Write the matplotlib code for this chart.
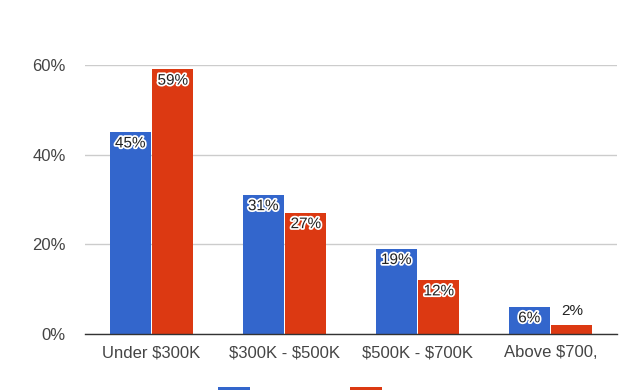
import numpy as np
import matplotlib
matplotlib.use("Agg")
import matplotlib.pyplot as plt
import matplotlib.patheffects as pe

categories = ["Under $300K", "$300K - $500K", "$500K - $700K", "Above $700,"]
series_a = [45, 31, 19, 6]
series_b = [59, 27, 12, 2]

blue = "#3366cc"
red = "#dc3912"

plt.rcParams["font.family"] = ["Liberation Sans", "DejaVu Sans"]
plt.rcParams["text.parse_math"] = False

fig = plt.figure(figsize=(6.28, 3.9), dpi=100)
ax = fig.add_axes([85 / 628, 56 / 390, 532 / 628, 269 / 390])

x = np.arange(len(categories))
w = 0.31
b1 = ax.bar(x - w / 2 - 0.005, series_a, w, color=blue, zorder=3)
b2 = ax.bar(x + w / 2 + 0.005, series_b, w, color=red, zorder=3)

halo = [pe.withStroke(linewidth=2.5, foreground="white")]
for bars, vals in ((b1, series_a), (b2, series_b)):
    for r, v in zip(bars, vals):
        cx = r.get_x() + r.get_width() / 2
        if v >= 5:
            ax.annotate("%d%%" % v, xy=(cx, v), xytext=(0, -3), textcoords="offset points",
                        ha="center", va="top", fontsize=11, color="#222222",
                        path_effects=halo, zorder=5)
        else:
            ax.annotate("%d%%" % v, xy=(cx, v), xytext=(0, 5), textcoords="offset points",
                        ha="center", va="bottom", fontsize=11, color="#222222", zorder=5)

ax.set_xlim(-0.5, len(categories) - 0.5)
ax.set_ylim(0, 60)
ax.set_yticks([0, 20, 40, 60])
ax.set_yticklabels(["0%", "20%", "40%", "60%"])
ax.set_xticks(x)
ax.set_xticklabels(categories)
ax.tick_params(length=0, labelsize=12, labelcolor="#444444")
ax.tick_params(axis="y", pad=14)
ax.tick_params(axis="x", pad=8)
ax.grid(axis="y", color="#cccccc", linewidth=1, zorder=0)
ax.set_axisbelow(True)
for s in ["top", "right", "left"]:
    ax.spines[s].set_visible(False)
ax.spines["bottom"].set_color("#333333")
ax.spines["bottom"].set_linewidth(1)
ax.spines["bottom"].set_zorder(4)

# legend sits mostly below the picture edge, only the swatch tops show
leg = fig.legend([b1, b2], ["", ""], loc="upper left", bbox_to_anchor=(218 / 628, 3 / 390),
                 ncol=2, frameon=False, handlelength=1.92, handleheight=1.0,
                 handletextpad=0.8, columnspacing=5.2, fontsize=12,
                 borderaxespad=0, borderpad=0)

fig.savefig("out.png", dpi=100)
